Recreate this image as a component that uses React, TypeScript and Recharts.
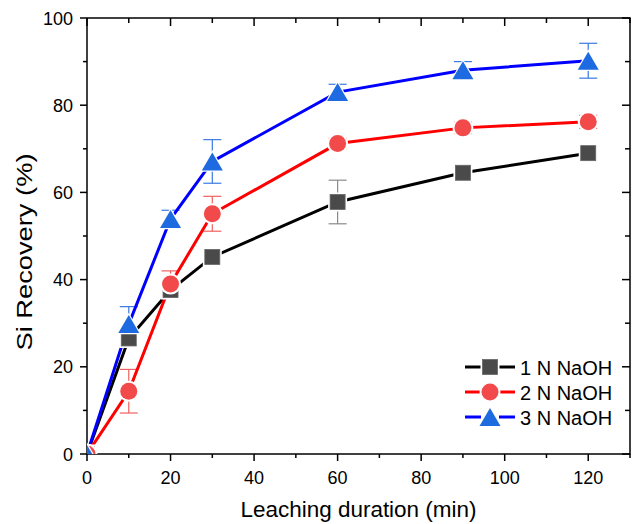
import { ComposedChart, Line, XAxis, YAxis, ErrorBar, Legend } from 'recharts';

// leaching time (min)
const times = [0, 10, 20, 30, 60, 90, 120];

// Si recovery (%) and error for each NaOH concentration
const recovery1N = [0, 26.5, 37.6, 45.2, 57.8, 64.5, 69];
const error1N = [0, 1.5, 1.5, 1.2, 5, 1.3, 1.5];
const recovery2N = [0, 14.4, 39, 55.1, 71.2, 74.8, 76.2];
const error2N = [0, 5, 3, 4, 1.2, 1.3, 1.5];
const recovery3N = [0, 29.8, 53.9, 67.1, 83, 88, 90.2];
const error3N = [0, 4, 2, 5, 1.8, 2, 4];

const seriesNames = ['1 N NaOH', '2 N NaOH', '3 N NaOH'];

const xMax = 130;
const yMax = 100;
const xTicks = [0, 10, 20, 30, 40, 50, 60, 70, 80, 90, 100, 110, 120, 130];
const xLabels = [0, 20, 40, 60, 80, 100, 120];
const yTicks = [0, 10, 20, 30, 40, 50, 60, 70, 80, 90, 100];
const yLabels = [0, 20, 40, 60, 80, 100];

const data = times.map((t, i) => ({
  t,
  n1: recovery1N[i],
  n1e: error1N[i],
  n2: recovery2N[i],
  n2e: error2N[i],
  n3: recovery3N[i],
  n3e: error3N[i],
}));

const FONT = '"Liberation Sans", Arial, sans-serif';

// chart layout
const W = 635;
const H = 524;
const margin = { top: 18, right: 5, left: 0, bottom: 0 };
const yAxisWidth = 87;
const xAxisHeight = 70;
const plotLeft = margin.left + yAxisWidth;
const plotRight = W - margin.right;
const plotTop = margin.top;

const colors = {
  line: ['#000000', '#ff0000', '#0000ff'],
  marker: ['#4a4a4a', '#f24a4a', '#1e6ae0'],
  error: ['#8a8a8a', '#f06060', '#3a7ae0'],
};

function SquareMark({ cx, cy, fill }: any) {
  const s = 15;
  return (
    <g>
      <rect x={cx - s / 2 - 2} y={cy - s / 2 - 2} width={s + 4} height={s + 4} fill="#fff" />
      <rect x={cx - s / 2} y={cy - s / 2} width={s} height={s} fill={fill} stroke="#666" strokeWidth={0.8} />
    </g>
  );
}

function CircleMark({ cx, cy, fill }: any) {
  return (
    <g>
      <circle cx={cx} cy={cy} r={10.5} fill="#fff" />
      <circle cx={cx} cy={cy} r={8.5} fill={fill} />
    </g>
  );
}

function TriangleMark({ cx, cy, fill }: any) {
  const w = 21;
  const h = 18;
  const pts = (pad: number) =>
    `${cx},${cy - h / 2 - pad * 1.6} ${cx - w / 2 - pad * 1.4},${cy + h / 2 + pad * 0.8} ${cx + w / 2 + pad * 1.4},${cy + h / 2 + pad * 0.8}`;
  return (
    <g>
      <polygon points={pts(1.5)} fill="#fff" />
      <polygon points={pts(0)} fill={fill} />
    </g>
  );
}

const markers = [SquareMark, CircleMark, TriangleMark];

const dotRenderer = (idx: number) => (props: any) => {
  const Mark = markers[idx];
  return <Mark key={`m${idx}-${props.index}`} cx={props.cx} cy={props.cy} fill={colors.marker[idx]} />;
};

function BottomTick({ x, y, payload }: any) {
  const v = payload.value;
  const major = xLabels.includes(v);
  return (
    <g>
      <line x1={x} x2={x} y1={y} y2={y + (major ? 7 : 4)} stroke="#000" strokeWidth={1.5} />
      {major && (
        <text x={x} y={y + 30} textAnchor="middle" fontSize={18} fill="#000" fontFamily={FONT}>
          {v}
        </text>
      )}
      {/* matching inward tick on the top edge */}
      <line x1={x} x2={x} y1={plotTop} y2={plotTop + (major ? 8 : 5)} stroke="#000" strokeWidth={1.5} />
    </g>
  );
}

function LeftTick({ x, y, payload }: any) {
  const v = payload.value;
  const major = yLabels.includes(v);
  return (
    <g>
      <line x1={x - (major ? 7 : 4)} x2={x} y1={y} y2={y} stroke="#000" strokeWidth={1.5} />
      {major && (
        <text x={x - 14} y={y + 6.5} textAnchor="end" fontSize={18} fill="#000" fontFamily={FONT}>
          {v}
        </text>
      )}
      {/* matching inward tick on the right edge */}
      <line x1={plotRight - (major ? 8 : 5)} x2={plotRight} y1={y} y2={y} stroke="#000" strokeWidth={1.5} />
      {/* top and right edges of the box */}
      {v === yMax && (
        <line x1={plotLeft} x2={plotRight + 0.75} y1={y} y2={y} stroke="#000" strokeWidth={1.5} />
      )}
      {v === 0 && (
        <line x1={plotRight} x2={plotRight} y1={plotTop} y2={y + 0.75} stroke="#000" strokeWidth={1.5} />
      )}
    </g>
  );
}

function LegendBox() {
  return (
    <svg width={165} height={75} style={{ display: 'block' }}>
      {seriesNames.map((name, i) => {
        const cy = 12 + i * 25;
        const Mark = markers[i];
        return (
          <g key={name}>
            <line x1={3} x2={19} y1={cy} y2={cy} stroke={colors.line[i]} strokeWidth={3} />
            <line x1={37} x2={53} y1={cy} y2={cy} stroke={colors.line[i]} strokeWidth={3} />
            <Mark cx={28} cy={cy} fill={colors.marker[i]} />
            <text x={58} y={cy + 7.5} fontSize={20} fill="#000" fontFamily={FONT}>
              {name}
            </text>
          </g>
        );
      })}
    </svg>
  );
}

const axisLine = { stroke: '#000', strokeWidth: 1.5 };

export default function App() {
  return (
    <div style={{ position: 'absolute', left: 0, top: 0, width: W, height: H, background: '#fff', fontFamily: FONT }}>
      <ComposedChart width={W} height={H} data={data} margin={margin}>
        <XAxis
          xAxisId="x"
          dataKey="t"
          type="number"
          domain={[0, xMax]}
          allowDataOverflow
          ticks={xTicks}
          interval={0}
          tickSize={0}
          tickMargin={0}
          tickLine={false}
          axisLine={axisLine}
          tick={<BottomTick />}
          height={xAxisHeight}
          label={{
            content: ({ viewBox }: any) => (
              <text
                x={viewBox.x + viewBox.width / 2}
                y={517}
                textAnchor="middle"
                fontSize={22}
                fill="#000"
                fontFamily={FONT}
                textLength={236}
                lengthAdjust="spacingAndGlyphs"
              >
                Leaching duration (min)
              </text>
            ),
          }}
        />
        <YAxis
          yAxisId="y"
          type="number"
          domain={[0, yMax]}
          allowDataOverflow
          ticks={yTicks}
          interval={0}
          tickSize={0}
          tickMargin={0}
          tickLine={false}
          axisLine={axisLine}
          tick={<LeftTick />}
          width={yAxisWidth}
          label={{
            content: () => (
              <text
                x={32}
                y={252}
                transform="rotate(-90, 32, 252)"
                textAnchor="middle"
                fontSize={22}
                fill="#000"
                fontFamily={FONT}
                textLength={197}
                lengthAdjust="spacingAndGlyphs"
              >
                Si Recovery (%)
              </text>
            ),
          }}
        />
        <Legend
          layout="vertical"
          align="center"
          verticalAlign="middle"
          wrapperStyle={{ left: 462, top: 355, width: 165 }}
          content={() => <LegendBox />}
        />
        <Line
          xAxisId="x"
          yAxisId="y"
          dataKey="n1"
          name={seriesNames[0]}
          stroke={colors.line[0]}
          strokeWidth={3}
          dot={dotRenderer(0)}
          activeDot={false}
          isAnimationActive={false}
        >
          <ErrorBar dataKey="n1e" direction="y" width={9} stroke={colors.error[0]} strokeWidth={1.2} />
        </Line>
        <Line
          xAxisId="x"
          yAxisId="y"
          dataKey="n2"
          name={seriesNames[1]}
          stroke={colors.line[1]}
          strokeWidth={3}
          dot={dotRenderer(1)}
          activeDot={false}
          isAnimationActive={false}
        >
          <ErrorBar dataKey="n2e" direction="y" width={9} stroke={colors.error[1]} strokeWidth={1.2} />
        </Line>
        <Line
          xAxisId="x"
          yAxisId="y"
          dataKey="n3"
          name={seriesNames[2]}
          stroke={colors.line[2]}
          strokeWidth={3}
          dot={dotRenderer(2)}
          activeDot={false}
          isAnimationActive={false}
        >
          <ErrorBar dataKey="n3e" direction="y" width={9} stroke={colors.error[2]} strokeWidth={1.2} />
        </Line>
      </ComposedChart>
    </div>
  );
}
